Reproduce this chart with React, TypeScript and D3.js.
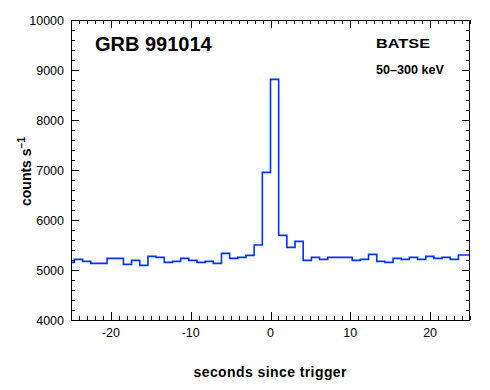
import React from "react";
import * as d3 from "d3";

const binWidth = 1.024;
const firstBinStart = -25.6;
const counts = [
  5153, 5213, 5173, 5133, 5133, 5233, 5233, 5113, 5193, 5093,
  5273, 5253, 5153, 5173, 5233, 5193, 5153, 5173, 5133, 5333,
  5233, 5253, 5293, 5500, 6953, 8813, 5693, 5453, 5573, 5193,
  5253, 5213, 5253, 5253, 5253, 5193, 5213, 5313, 5173, 5153,
  5233, 5213, 5253, 5213, 5273, 5233, 5253, 5213, 5300, 5300,
];
const xMajorTicks = [-20, -10, 0, 10, 20];
const yMajorTicks = [4000, 5000, 6000, 7000, 8000, 9000, 10000];
const title = "GRB 991014";
const instrument = "BATSE";
const band = "50\u2013300 keV";

const W = 490, H = 390;
const L = 71, R = 470, T = 20, B = 320;

export default function App() {
  const x = d3.scaleLinear().domain([-25, 25]).range([L, R]);
  const y = d3.scaleLinear().domain([4000, 10000]).range([B, T]);
  const pts: [number, number][] = counts.map((c, i) => [firstBinStart + i * binWidth, c]);
  pts.push([firstBinStart + counts.length * binWidth, counts[counts.length - 1]]);
  const line = d3.line<[number, number]>().x(d => x(d[0])).y(d => y(d[1])).curve(d3.curveStepAfter);

  const xMinor = d3.range(-25, 26, 1);
  const yMinor = d3.range(4000, 10001, 200);
  const font = "'Liberation Sans', Arial, Helvetica, sans-serif";

  return (
    <svg width={W} height={H} style={{ position: "absolute", left: 0, top: 0, background: "#fff" }} fontFamily={font}>
      <defs>
        <clipPath id="plot">
          <rect x={L} y={T} width={R - L} height={B - T} />
        </clipPath>
      </defs>
      <rect x={0} y={0} width={W} height={H} fill="#fff" />
      <path d={line(pts) || ""} fill="none" stroke="#0033ff" strokeWidth={1.6} clipPath="url(#plot)" />
      <g stroke="#000" strokeWidth={1} shapeRendering="crispEdges">
        {xMinor.map(v => {
          const len = xMajorTicks.includes(v) ? 8 : 4;
          const px = Math.round(x(v)) + 0.5;
          return (
            <g key={"x" + v}>
              <line x1={px} x2={px} y1={B} y2={B - len} />
              <line x1={px} x2={px} y1={T} y2={T + len} />
            </g>
          );
        })}
        {yMinor.map(v => {
          const len = v % 1000 === 0 ? 8 : 4;
          const py = Math.round(y(v)) + 0.5;
          return (
            <g key={"y" + v}>
              <line x1={L} x2={L + len} y1={py} y2={py} />
              <line x1={R} x2={R - len} y1={py} y2={py} />
            </g>
          );
        })}
        <rect x={L + 0.5} y={T + 0.5} width={R - L - 1} height={B - T} fill="none" />
      </g>
      <g fontSize={12.5} fill="#000">
        {xMajorTicks.map(v => (
          <text key={"xl" + v} x={x(v)} y={337} textAnchor="middle">{v < 0 ? "-" + Math.abs(v) : String(v)}</text>
        ))}
        {yMajorTicks.map(v => (
          <text key={"yl" + v} x={64} y={y(v) + 4.5} textAnchor="end">{v}</text>
        ))}
      </g>
      <text x={95} y={51} fontSize={20} fontWeight="bold">{title}</text>
      <text x={376} y={48} fontSize={12} fontWeight="bold" textLength={54} lengthAdjust="spacingAndGlyphs">{instrument}</text>
      <text x={376} y={74} fontSize={12} fontWeight="bold" textLength={68} lengthAdjust="spacingAndGlyphs">{band}</text>
      <text x={270} y={377} fontSize={14} fontWeight="bold" textAnchor="middle" textLength={153} lengthAdjust="spacing">seconds since trigger</text>
      <text transform="translate(31,206) rotate(-90)" fontSize={14} fontWeight="bold">
        counts s<tspan fontSize={10} dy={-6}>{"\u22121"}</tspan>
      </text>
    </svg>
  );
}
